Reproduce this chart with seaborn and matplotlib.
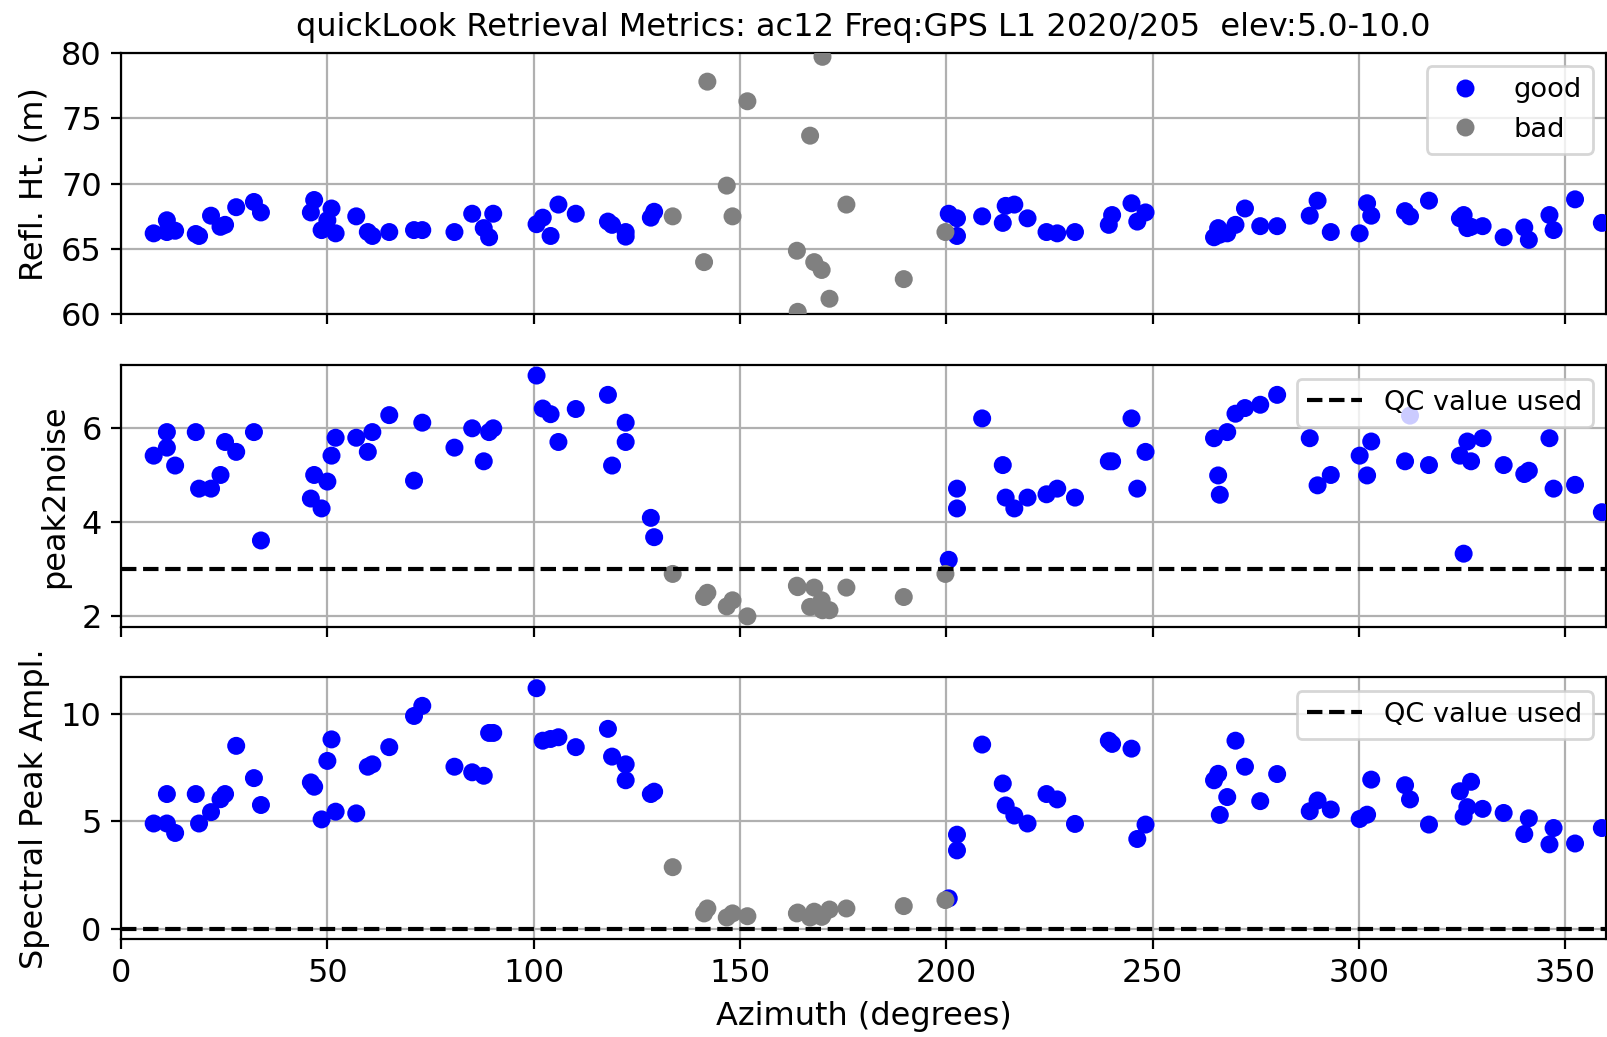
import pandas as pd
import seaborn as sns
import matplotlib
matplotlib.use("Agg")
import matplotlib.pyplot as plt

# -------- DATA --------
good_az = [7.9, 11.1, 11.1, 13.1, 18.1, 18.9, 21.8, 24.1, 25.2, 27.9,
           32.2, 33.9, 46.0, 46.8, 48.6, 50.0, 51.0, 52.0, 57.0, 59.8,
           60.9, 65.0, 71.0, 73.0, 80.8, 85.1, 87.9, 89.2, 90.2, 100.7,
           102.2, 104.1, 106.0, 110.2, 118.0, 119.0, 122.3, 122.3, 128.4, 129.2,
           200.6, 202.6, 202.6, 208.7, 213.7, 214.4, 216.5, 219.7, 224.3, 226.9,
           231.2, 239.4, 240.2, 244.9, 246.3, 248.3, 264.9, 265.9, 266.3, 268.1,
           270.1, 272.4, 276.1, 280.2, 288.1, 290.0, 293.2, 300.2, 302.0, 303.0,
           311.2, 312.4, 317.0, 324.5, 325.4, 326.3, 327.2, 330.0, 335.1, 340.1,
           341.2, 346.2, 347.2, 352.4, 358.9]
good_rh = [66.2, 67.2, 66.3, 66.4, 66.15, 66.0, 67.55, 66.7, 66.85, 68.2,
           68.6, 67.8, 67.8, 68.75, 66.45, 67.2, 68.1, 66.2, 67.5, 66.3,
           66.0, 66.3, 66.45, 66.45, 66.3, 67.7, 66.6, 65.9, 67.7, 66.9,
           67.4, 66.0, 68.4, 67.7, 67.1, 66.85, 66.3, 65.95, 67.4, 67.85,
           67.7, 67.35, 66.0, 67.5, 67.0, 68.3, 68.4, 67.35, 66.3, 66.2,
           66.3, 66.85, 67.6, 68.5, 67.1, 67.8, 65.9, 66.6, 66.1, 66.2,
           66.85, 68.1, 66.75, 66.75, 67.55, 68.7, 66.3, 66.2, 68.5, 67.55,
           67.9, 67.5, 68.7, 67.35, 67.6, 66.6, 66.7, 66.75, 65.9, 66.65,
           65.7, 67.6, 66.45, 68.8, 67.0]
good_p2n = [5.41, 5.91, 5.58, 5.2, 5.91, 4.71, 4.71, 5.0, 5.7, 5.49,
            5.91, 3.61, 4.5, 5.0, 4.29, 4.86, 5.41, 5.79, 5.79, 5.49,
            5.91, 6.27, 4.88, 6.11, 5.58, 5.99, 5.29, 5.91, 5.99, 7.11,
            6.41, 6.29, 5.7, 6.4, 6.7, 5.2, 6.11, 5.7, 4.09, 3.68,
            3.2, 4.71, 4.29, 6.2, 5.21, 4.52, 4.29, 4.52, 4.59, 4.71,
            4.52, 5.29, 5.29, 6.2, 4.71, 5.49, 5.78, 4.99, 4.58, 5.91,
            6.3, 6.42, 6.49, 6.7, 5.78, 4.78, 5.0, 5.41, 4.99, 5.71,
            5.29, 6.26, 5.21, 5.41, 3.33, 5.71, 5.29, 5.78, 5.21, 5.02,
            5.09, 5.78, 4.71, 4.79, 4.21]
good_amp = [4.89, 6.26, 4.89, 4.45, 6.26, 4.89, 5.42, 6.02, 6.26, 8.5,
            7.0, 5.75, 6.8, 6.6, 5.08, 7.8, 8.8, 5.44, 5.36, 7.53,
            7.64, 8.44, 9.89, 10.36, 7.53, 7.27, 7.11, 9.1, 9.1, 11.18,
            8.74, 8.82, 8.9, 8.44, 9.29, 8.0, 7.64, 6.9, 6.26, 6.37,
            1.41, 4.37, 3.64, 8.56, 6.75, 5.73, 5.26, 4.89, 6.26, 6.01,
            4.87, 8.74, 8.59, 8.37, 4.17, 4.84, 6.9, 7.2, 5.29, 6.12,
            8.74, 7.53, 5.93, 7.19, 5.46, 5.96, 5.54, 5.1, 5.3, 6.93,
            6.67, 6.01, 4.84, 6.39, 5.21, 5.65, 6.83, 5.57, 5.38, 4.4,
            5.13, 3.92, 4.68, 3.96, 4.68]

bad_az = [133.7, 141.3, 142.1, 146.8, 148.2, 151.8, 163.8, 164.0,
          167.0, 168.0, 169.8, 170.0, 171.7, 175.8, 189.7, 199.8]
bad_rh = [67.5, 64.0, 77.8, 69.85, 67.5, 76.3, 64.87, 60.2,
          73.67, 64.0, 63.4, 79.7, 61.2, 68.4, 62.7, 66.3]
bad_p2n = [2.9, 2.41, 2.5, 2.21, 2.34, 2.0, 2.65, 2.62,
           2.2, 2.61, 2.34, 2.13, 2.13, 2.61, 2.41, 2.9]
bad_amp = [2.86, 0.71, 0.94, 0.52, 0.71, 0.58, 0.71, 0.75,
           0.52, 0.79, 0.55, 0.6, 0.89, 0.94, 1.05, 1.33]

qc_p2n = 3.0
qc_amp = 0.0
title_text = "quickLook Retrieval Metrics: ac12 Freq:GPS L1 2020/205  elev:5.0-10.0"

# -------- BUILD TABLE --------
df = pd.concat([
    pd.DataFrame({"az": good_az, "rh": good_rh, "p2n": good_p2n,
                  "amp": good_amp, "qc": "good"}),
    pd.DataFrame({"az": bad_az, "rh": bad_rh, "p2n": bad_p2n,
                  "amp": bad_amp, "qc": "bad"}),
], ignore_index=True)
palette = {"good": "blue", "bad": "gray"}

# -------- PLOT --------
plt.rcParams["font.size"] = 11.5
plt.rcParams["xtick.labelsize"] = 11.5
plt.rcParams["ytick.labelsize"] = 11.5
plt.rcParams["legend.fontsize"] = 9.8
fig, axes = plt.subplots(3, 1, figsize=(8.04, 5.185), dpi=200, sharex=True)
fig.subplots_adjust(left=0.0753, right=0.999, top=0.949, bottom=0.0945,
                    hspace=0.194)

cols = ["rh", "p2n", "amp"]
ylabels = ["Refl. Ht. (m)", "peak2noise", "Spectral Peak Ampl."]
ylims = [(60, 80), (1.78, 7.33), (-0.48, 11.68)]

for ax, col, lab, lim in zip(axes, cols, ylabels, ylims):
    sns.scatterplot(data=df, x="az", y=col, hue="qc", palette=palette,
                    hue_order=["good", "bad"], s=42, linewidth=0,
                    ax=ax, legend=(col == "rh"), zorder=3)
    ax.set_ylabel(lab)
    ax.set_xlabel("")
    ax.set_ylim(lim)
    ax.grid(True)
    ax.set_axisbelow(True)

axes[0].legend(loc="upper right")
axes[1].axhline(qc_p2n, ls="--", color="k", lw=1.5, zorder=4,
                label="QC value used")
axes[1].legend(loc="upper right")
axes[2].axhline(qc_amp, ls="--", color="k", lw=1.5, zorder=4,
                label="QC value used")
axes[2].legend(loc="upper right")

axes[0].set_yticks([60, 65, 70, 75, 80])
axes[1].set_yticks([2, 4, 6])
axes[2].set_yticks([0, 5, 10])
axes[2].set_xlim(0, 360)
axes[2].set_xlabel("Azimuth (degrees)")
axes[0].set_title(title_text, fontsize=11.5)

fig.savefig("out.png", dpi=200)
plt.close(fig)
